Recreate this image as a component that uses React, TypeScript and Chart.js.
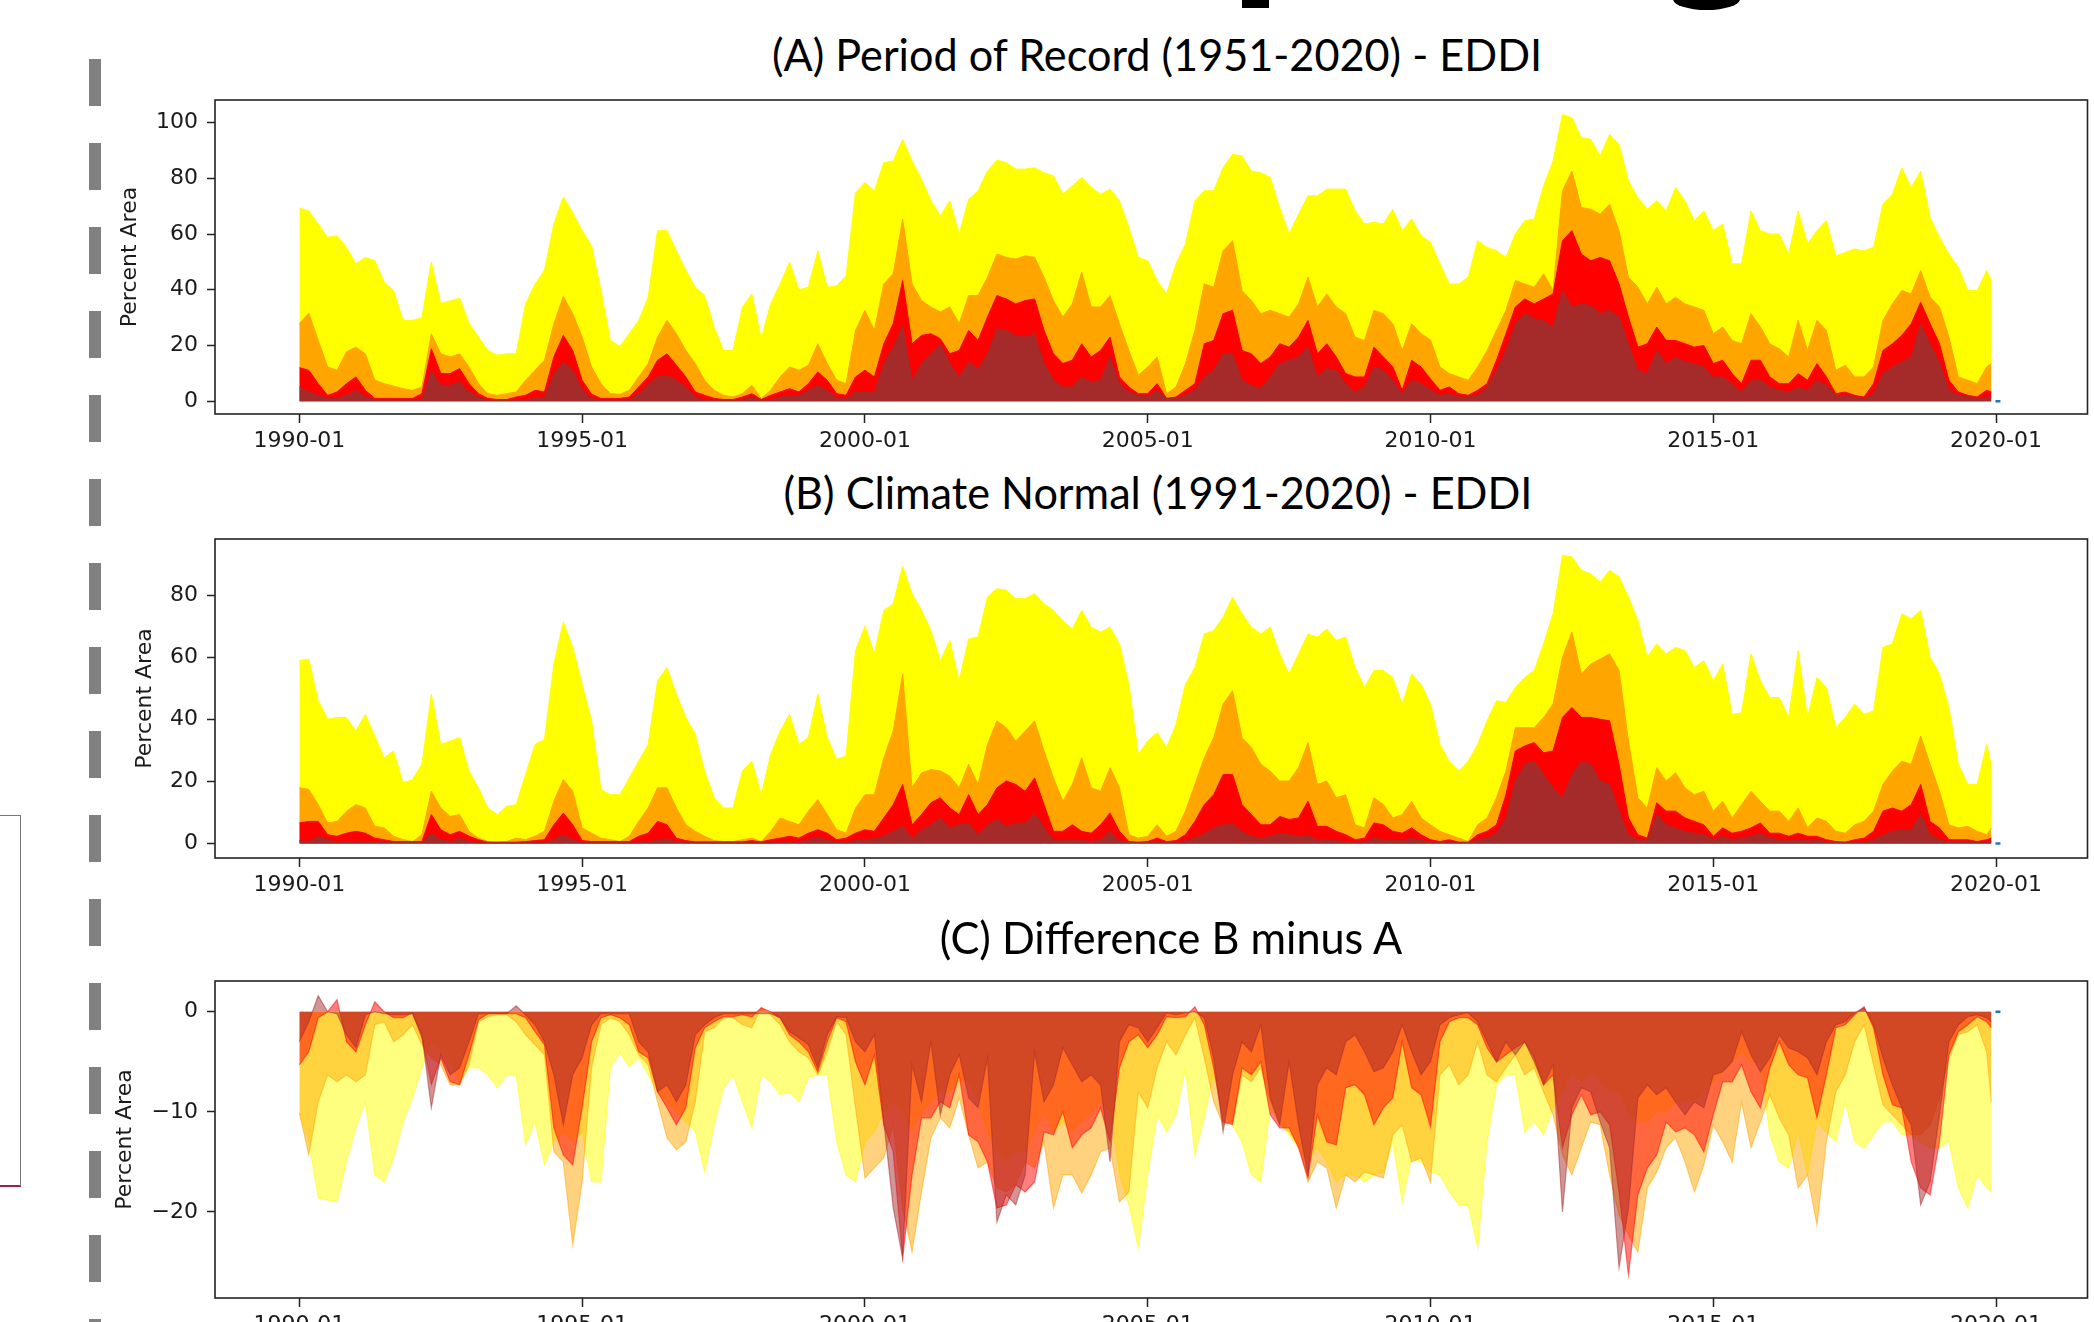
import React, { useEffect, useRef } from 'react';
import { Chart, registerables } from 'chart.js';

Chart.register(...registerables);

// ---------- categories (months since 1990-01, sampled every 2 months, last = 2019-12) ----------
const months: number[] = Array.from({ length: 180 }, (_, i) => i * 2).concat([359]);
const xTickMonths = [0, 60, 120, 180, 240, 300, 360];
const xTickLabels = ['1990-01', '1995-01', '2000-01', '2005-01', '2010-01', '2015-01', '2020-01'];
const endMarkerMonth = [360.4];
const endMarkerValue = [0];

const titles = [
  '(A) Period of Record (1951-2020) - EDDI',
  '(B) Climate Normal (1991-2020) - EDDI',
  '(C) Difference B minus A',
];
const yAxisLabel = 'Percent Area';

const yTicksA = [0, 20, 40, 60, 80, 100];
const yTickLabelsA = ['0', '20', '40', '60', '80', '100'];
const yTicksB = [0, 20, 40, 60, 80];
const yTickLabelsB = ['0', '20', '40', '60', '80'];
const yTicksC = [-20, -10, 0];
const yTickLabelsC = ['\u221220', '\u221210', '0'];

// ---------- (A) Period of Record: cumulative percent area D0+ .. D3+ ----------
const aD0 = [
  69.3, 68.3, 63.6, 58.8, 59.4, 55.2, 49.3, 51.6, 50.4, 42.7, 39.7, 29, 29, 30, 50, 35, 36, 37, 28, 23,
  18.2, 16.5, 17, 17, 35, 42, 47, 63.6, 73.3, 67.7, 61.2, 55.8, 39.7, 21.8, 19.7, 24.2, 29, 37.3, 61.2, 61.2,
  54, 47, 40.9, 38, 26.6, 18.2, 18.2, 33.7, 38.5, 22.4, 35, 42, 49.9, 40, 40.9, 54, 40.9, 41.5, 45, 74.9,
  78.5, 75.5, 85.6, 86.2, 94, 86.2, 79.7, 71.9, 66.5, 71.9, 60, 72.5, 75.5, 82.6, 86.5, 85.6, 83.3, 83.3, 83.8, 82,
  80.9, 74.3, 77.3, 80.3, 76.7, 74.3, 76.1, 71.9, 62.4, 51.6, 50.4, 43.3, 38.5, 49.3, 56.4, 71.9, 75.5, 75.5, 83.8, 88.6,
  88, 82.6, 82, 80.3, 69.5, 60, 67.1, 73.7, 73.7, 76.1, 76.1, 76.1, 68.3, 63.6, 64.2, 63.6, 68.9, 61.2, 65.4, 59.4,
  57, 49.3, 42.1, 42.1, 44.5, 57.6, 55.2, 54, 51.6, 60, 64.8, 65.4, 77.3, 86.2, 102.9, 101.7, 94.6, 94, 88, 95.8,
  92.2, 79.1, 73.1, 68.9, 71.9, 68.3, 76.7, 71.9, 64.8, 68.3, 61.2, 63.6, 49.3, 49.3, 68.3, 61.2, 60, 60, 52.8, 68.3,
  56.4, 61.2, 64.8, 52.2, 53.4, 54.6, 54, 55.2, 70.7, 74.3, 83.8, 76.7, 82.6, 65.9, 58.8, 52.8, 48.1, 39.7, 39.7, 46.9,
  43.3,
];
const aD1 = [
  27.8, 31.6, 21.8, 12.3, 11.1, 17.7, 19.4, 17, 7.5, 6.3, 5.4, 4.5, 3.9, 5.1, 24.2, 17, 15.9, 17, 12.3, 6.3,
  2.7, 2.1, 2.7, 3.3, 7.5, 11.1, 14.7, 27.8, 37.6, 31.4, 23, 12.3, 6.3, 2.7, 2.5, 3.9, 8.7, 13.5, 23, 29,
  24.2, 18.2, 13.5, 7.5, 3.9, 2.1, 1.5, 2.7, 5.7, 1, 3.9, 8.7, 12.3, 11.1, 12.9, 20.6, 13.5, 7.5, 6.3, 25.4,
  32.6, 25.4, 42.1, 45.7, 65.4, 42.1, 36.1, 33.8, 32, 33.8, 27.8, 37.9, 37.9, 44.5, 52.8, 51.6, 51, 52.2, 51.6, 44.5,
  36.1, 30.2, 34.9, 46.3, 33.8, 33.8, 37.9, 27.8, 18.2, 9.3, 12.3, 15.9, 2.7, 5.1, 13.5, 25.4, 42.1, 40.9, 54, 57.6,
  39.7, 36.1, 31.4, 32.6, 31.4, 30.2, 34.9, 44.5, 33.8, 38.5, 33.8, 31.4, 23, 21.8, 32.6, 31.4, 27.8, 18.2, 27.8, 24.2,
  22, 12.3, 9.9, 8.7, 7.5, 12.3, 18.2, 25.4, 32.6, 43.3, 42.1, 40.9, 45.7, 39.7, 75.5, 82.6, 69.5, 68.9, 67.1, 70.7,
  61.2, 44.5, 40.9, 34.9, 40.9, 34.9, 37.3, 34.9, 33.8, 32.6, 24.2, 26.6, 21.8, 20.6, 31.4, 26.6, 20.6, 18.8, 15.9, 29,
  18.2, 29, 25.4, 11.1, 12.9, 8.7, 8.7, 12.3, 29, 34.9, 39.7, 38.5, 46.9, 37.3, 33.8, 23, 8.7, 7.5, 6.3, 12.3,
  13.5,
];
const aD2 = [
  12, 11.1, 6.3, 2.1, 3.3, 6.3, 8.7, 3.9, 1, 1, 1, 1, 1, 2.7, 18.8, 9.9, 9.9, 11.7, 6.3, 2.7,
  1, 0.6, 0.6, 1.5, 2.1, 3.9, 3.3, 15.9, 23.6, 18.2, 7.5, 2.5, 1, 1, 1, 1.5, 5.1, 8.7, 14.7, 17,
  12.9, 8.7, 3.3, 2.1, 1, 0.6, 0.6, 1.5, 2.7, 0.6, 2.1, 3.3, 4.5, 3.3, 6.3, 10.5, 7.5, 2.7, 2.1, 8.7,
  11.1, 8.7, 20.6, 27.8, 43.3, 20.6, 23.6, 24.2, 22.4, 17, 18.2, 25.4, 21.8, 30.2, 37.9, 36.7, 34.9, 36.1, 36.7, 25.4,
  17, 13.5, 14.7, 20.6, 15.9, 18.2, 23, 8.7, 5.1, 2.7, 2.7, 6.3, 1, 1.5, 3.9, 6.3, 20.6, 21.8, 31.4, 32.6,
  18.2, 17, 13.5, 15.9, 20.6, 19.4, 23, 29, 17, 20.6, 15.9, 9.9, 8.7, 8.7, 19.4, 15.9, 12.3, 3.9, 14.7, 12.3,
  8, 3.9, 5.1, 2.7, 2.1, 3.9, 6.3, 14.7, 24.2, 33.8, 36.7, 34.9, 36.7, 38.5, 57.6, 61.2, 52.8, 50.4, 51.6, 50.4,
  42.1, 30.2, 19.4, 20.6, 26.6, 21.8, 21.8, 20.6, 19.4, 20, 13.5, 14.7, 9.9, 6.3, 14.7, 14.7, 8.7, 6.3, 6.3, 9.9,
  7.5, 13.5, 8.7, 2.7, 3.3, 2.1, 1.5, 6.3, 18.2, 20.6, 23.6, 27.8, 35.5, 27.8, 20.6, 7.5, 3.3, 2.1, 1.5, 3.9,
  3.3,
];
const aD3 = [
  5.1, 3.3, 2.1, 1, 1, 2.1, 3.9, 1.5, 0.5, 0.5, 0.5, 0.5, 0.5, 0.5, 11.1, 5.7, 5.7, 6.9, 3.3, 1.5,
  0.3, 0.3, 0.3, 0.3, 0.5, 1, 1.5, 9.9, 14.1, 11.1, 3.9, 1, 0.3, 0.3, 0.3, 0.3, 2.7, 6.3, 8.7, 9.3,
  7.5, 5.1, 1.5, 0.3, 0.3, 0.3, 0.3, 0.5, 1.5, 0.3, 0.5, 1.5, 2.1, 2.1, 3.9, 5.7, 3.9, 1, 1, 3.3,
  3.3, 3.3, 13.5, 19.4, 27.2, 7.5, 13.5, 17, 20.6, 13.5, 8.7, 14.1, 11.7, 17, 26, 25.4, 23.6, 23, 24.2, 13.5,
  7.5, 5.1, 5.1, 8.7, 6.9, 7.5, 15.9, 6.3, 3.3, 2.1, 1.5, 3.9, 1, 1, 2.1, 3.9, 8.7, 11.1, 17, 17,
  7.5, 5.7, 4.5, 8.7, 13.5, 14.7, 15.9, 19.4, 8.7, 11.7, 11.1, 6.3, 3.3, 5.1, 12.3, 11.1, 7.5, 2.7, 7.5, 6.3,
  4, 2.1, 2.7, 1.5, 1.5, 2.1, 5.1, 11.1, 18.2, 27.8, 31.4, 29.6, 29, 26.6, 39.7, 33.8, 34.9, 34.3, 31.4, 32.6,
  30.2, 20.6, 11.1, 9.9, 18.2, 13.5, 15.9, 14.1, 13.5, 12.3, 8.7, 8.7, 6.3, 3.3, 7.5, 7.5, 5.1, 3.9, 3.3, 5.1,
  3.9, 7.5, 5.7, 2.1, 2.1, 1.5, 1, 2.7, 9.9, 12.3, 14.1, 15.9, 27.8, 20.6, 13.5, 3.9, 2.1, 1.5, 1, 1.5,
  1.5,
];

// ---------- (B) Climate Normal ----------
const bD0 = [
  58.9, 59.4, 46, 40, 40.6, 40.6, 36.2, 41.6, 34.6, 27.6, 29.8, 19.5, 20.6, 25.5, 48.1, 31.9, 33, 34.1, 23.3, 17.9,
  11.4, 9.3, 12, 12.5, 22.2, 31.9, 33.5, 57.8, 71.3, 63.2, 51.3, 39.5, 17.4, 15.7, 15.7, 21.1, 26.5, 31.9, 52.4, 56.7,
  48.1, 40.6, 35.2, 23.3, 14.7, 11.4, 11.4, 23.3, 26.5, 15.7, 28.7, 36.2, 41.6, 31.9, 34.1, 48.1, 34.1, 27.1, 28.2, 62.1,
  70, 61.1, 75.1, 77.2, 89.3, 80.5, 75.1, 68.6, 58.9, 65.4, 52.4, 65.9, 66.5, 79.4, 82.1, 81.6, 78.9, 78.9, 80.5, 77.2,
  75.1, 71.8, 69.1, 75.1, 69.7, 68.1, 69.7, 64.3, 51.3, 28.7, 33, 35.7, 30.9, 38.4, 51.3, 56.7, 67.5, 68.6, 72.9, 79.4,
  74, 69.7, 67.5, 69.7, 61.1, 54.6, 61.1, 67.5, 66.5, 69.1, 65.4, 66.5, 56.7, 50.3, 55.7, 55.7, 53.5, 44.9, 54.6, 51.3,
  45, 31.9, 26.5, 23.3, 26.5, 31.9, 39.5, 46, 45.4, 50.3, 53.5, 55.7, 64.3, 74, 92.9, 92.3, 88, 86.9, 84.2, 88,
  85.9, 79.4, 71.8, 60, 64.3, 61.1, 63.2, 62.1, 56.7, 58.9, 52.4, 57.8, 41.6, 42.1, 61.1, 52.4, 47, 47, 40.6, 62.1,
  40.6, 53.5, 50.3, 37.3, 40.6, 44.9, 41.6, 42.7, 63.2, 64.3, 74, 72.4, 75.1, 60, 54.6, 43.8, 25.5, 19, 19, 31.9,
  25.5,
];
const bD1 = [
  17.9, 17.4, 12.5, 6.6, 7.1, 10.4, 12.5, 11.4, 5.5, 5, 2.3, 1.2, 0.6, 2.8, 16.8, 11.4, 8.7, 9.3, 3.9, 1.7,
  0.6, 0.4, 0.6, 1.7, 1.2, 2.3, 3.9, 13.6, 20.6, 16.8, 5, 3.3, 1.7, 1.2, 0.6, 2.3, 7.1, 11.4, 17.9, 17.9,
  11.4, 6, 3.9, 2.3, 0.9, 0.6, 0.6, 1.2, 1.7, 0.6, 3.9, 8.2, 7.1, 6, 10.4, 14.1, 9.3, 4.4, 3.3, 11.4,
  15.7, 15.7, 27.6, 36.2, 54.6, 17.9, 22.7, 23.8, 23.3, 21.7, 17.9, 25.5, 19, 31.9, 39.5, 37.3, 33, 36.2, 39.5, 29.8,
  21.1, 13.6, 19, 27.6, 17.9, 16.8, 24.4, 17.9, 2.8, 1.7, 2.3, 6, 2.3, 3.9, 10.4, 19, 27.6, 34.1, 44.9, 49.2,
  34.1, 30.9, 25.5, 23.3, 20.1, 20.1, 24.4, 32.5, 19, 20.1, 14.7, 15.7, 6, 5, 14.7, 12.5, 8.2, 9.3, 13.6, 8.2,
  6, 3.9, 2.8, 1.7, 0.6, 6, 8.2, 14.7, 23.3, 37.3, 37.3, 37.3, 40.6, 44.9, 60, 68.1, 54.6, 57.8, 59.4, 61.1,
  55.7, 33, 14.7, 11.4, 24.4, 20.1, 22.8, 17.9, 15.7, 16.8, 10.4, 13.6, 8.2, 12.5, 16.8, 13.6, 10.4, 10.4, 7.1, 11.4,
  5, 8.2, 7.1, 3.9, 3.3, 6, 7.1, 10.4, 19, 23.3, 26.5, 25.5, 34.6, 25.5, 16.8, 6, 5, 5.5, 3.9, 2.8,
  5,
];
const bD2 = [
  6.6, 7.1, 7.1, 2.8, 2.3, 3.3, 3.9, 3.3, 1.7, 1.2, 0.6, 0.6, 0.6, 0.6, 9.3, 4.4, 2.8, 3.9, 2.3, 1.2,
  0.4, 0.4, 0.4, 0.4, 0.6, 0.9, 1.2, 6, 9.8, 6, 0.9, 0.6, 0.6, 0.6, 0.6, 0.6, 2.3, 3.3, 7.1, 6,
  1.7, 0.9, 0.5, 0.5, 0.5, 0.5, 0.5, 0.5, 0.9, 0.5, 1.2, 1.7, 2.3, 1.7, 3.3, 4.4, 3.3, 1.2, 1.7, 3.3,
  4.4, 3.9, 8.2, 12.5, 19, 6, 9.3, 13.1, 14.7, 11.4, 9.3, 15.7, 9.3, 12.5, 17.9, 20.1, 19, 16.8, 21.1, 12.5,
  3.9, 3.9, 6, 3.9, 3.3, 6, 9.8, 3.9, 0.6, 0.4, 0.6, 1.7, 0.6, 0.9, 2.8, 7.1, 12.5, 15.7, 22.2, 22.2,
  12.5, 9.3, 6, 6, 8.7, 7.7, 8.2, 13.6, 5.5, 5.5, 3.9, 2.8, 1.2, 1.7, 6.6, 6, 3.9, 3.3, 5, 2.8,
  1.2, 0.6, 1.2, 0.4, 0.4, 2.8, 3.9, 6, 15.7, 29.8, 31.4, 32.5, 29.2, 29.8, 40.6, 43.8, 40.6, 40.6, 40, 39.5,
  25.5, 8.2, 2.8, 1.7, 13.1, 10.4, 10.4, 8.2, 7.1, 6, 2.3, 5, 3.3, 3.9, 5, 6.6, 3.3, 3.3, 2.3, 3.3,
  2.3, 2.3, 1.2, 0.6, 0.4, 1.2, 1.7, 3.9, 10.4, 11.4, 10.4, 12.5, 19, 7.1, 5, 1.2, 1.2, 1.2, 0.6, 1.2,
  1.7,
];
const bD3 = [
  0.9, 0.6, 2.3, 1.2, 0.3, 0.3, 0.3, 0.3, 0.3, 0.3, 0.3, 0.3, 0.3, 0.3, 3.3, 1.2, 0.6, 1.7, 0.6, 0.2,
  0.2, 0.2, 0.2, 0.2, 0.2, 0.2, 0.2, 1.2, 2.8, 1.2, 0.2, 0.2, 0.2, 0.2, 0.2, 0.2, 0.2, 0.4, 1.2, 1.5,
  0.6, 0.2, 0.2, 0.2, 0.2, 0.2, 0.2, 0.2, 0.2, 0.2, 0.2, 0.4, 0.6, 0.4, 1.2, 1.9, 1.2, 0.4, 0.4, 0.9,
  1.2, 1.5, 2.3, 3.9, 5.5, 1.7, 4.4, 6, 8.2, 5, 6, 6.6, 2.8, 6, 7.7, 5.5, 6.6, 6.6, 9.8, 5,
  1.2, 0.9, 1.2, 0.9, 0.6, 1.2, 3.9, 0.9, 0.3, 0.3, 0.3, 0.3, 0.3, 0.4, 0.9, 1.7, 3.3, 5, 6, 6.3,
  3.9, 2.3, 1.7, 2.3, 3.3, 2.8, 2.3, 2.8, 1.2, 1.2, 0.9, 0.6, 0.4, 0.6, 1.7, 1.2, 0.9, 0.9, 1.7, 0.9,
  0.6, 0.3, 0.3, 0.3, 0.3, 1.2, 1.7, 3.3, 8.2, 20.1, 25.5, 26.5, 22.2, 17.9, 14.7, 22.2, 26.5, 25.5, 20.1, 19,
  10.4, 2.8, 1.2, 1.2, 9.3, 6, 5, 3.9, 3.3, 2.8, 1.2, 2.3, 1.2, 1.7, 2.3, 3.3, 1.7, 1.2, 0.9, 1.2,
  0.9, 1.2, 0.6, 0.4, 0.4, 0.4, 0.4, 1.2, 2.8, 3.9, 4.4, 4.4, 9.3, 2.8, 1.2, 0.5, 0.5, 0.5, 0.5, 0.5,
  0.5,
];

// ---------- (C) Difference B minus A ----------
const cD0 = [
  -10.1, -13, -18.6, -18.8, -19, -15, -11.6, -9, -16.3, -17, -14.6, -11, -8.6, -5.6, -3, -4, -5, -7, -5.6, -5.6,
  -6.3, -7.6, -6.3, -6.3, -13.3, -11, -15.3, -13, -12, -13, -12, -17, -17, -5.6, -4.1, -5.5, -4.6, -6.3, -8, -9,
  -10, -11, -12, -16, -11.3, -7.6, -6.3, -9, -11.6, -6.3, -7, -8.3, -8, -9, -6.6, -6.3, -6.3, -13, -16.3, -17,
  -13, -12, -10, -9, -10, -12, -10, -9, -8, -8, -7, -7, -9, -12, -14, -15, -14, -14, -12, -10,
  -12, -11, -12, -11, -10, -9, -10, -16.3, -19.3, -23.6, -16.3, -10.3, -12, -10.3, -5.6, -14.3, -10.6, -6.3, -9.6, -11.3,
  -13, -16.3, -17, -9.6, -11, -12.3, -13.6, -15, -13.6, -15, -17, -16.3, -16.3, -17, -16.3, -16, -13, -19, -14.6, -15,
  -16, -16.3, -18, -19.3, -19.3, -23.6, -13, -7.3, -6.3, -6.3, -12, -11, -12.3, -9.6, -8, -6, -7, -6, -7, -8,
  -8, -10, -11, -11, -10, -10, -9, -9, -9, -8, -7, -6, -5, -4, -5, -5, -12.3, -15, -15.6, -12,
  -16.3, -11, -12, -13, -9, -13, -13.6, -12.3, -11, -11, -12.3, -12.3, -13, -13.6, -13.6, -13, -17.6, -19.6, -16.3, -17.6,
  -18,
];
const cD1 = [
  -10.1, -14.3, -9, -6.3, -7, -6.3, -7, -6.3, -1.3, -1, -3, -2.3, -1.3, -3.3, -4.6, -5.3, -7.3, -7.3, -5.3, -1,
  -0.5, -0.3, -0.3, -1, -2.3, -3.3, -4.3, -14, -15, -23.3, -17, -5.6, -1.3, -0.6, -1, -2.3, -4.3, -5.3, -9, -12.6,
  -13.8, -13, -9, -2, -1.6, -0.6, -0.6, -1.3, -1.6, 0.4, -0.3, -1.3, -3, -4, -4.6, -6.3, -4, -1, -2.3, -9.6,
  -16.6, -15.6, -14.6, -11.3, -19.6, -24, -18, -12.6, -10.6, -11.6, -8.6, -12.3, -15.6, -15, -17.6, -18, -17.3, -15, -15.6, -13,
  -19.6, -16.3, -16.3, -18.1, -16.3, -14, -13.6, -19, -18, -8, -9.6, -5.6, -3, -4.3, -2.3, -0.6, -4.6, -9, -11.3, -11,
  -6.3, -7, -5.6, -9, -11.3, -12, -13.3, -17, -15, -15.6, -19.6, -16.3, -17, -16, -16.3, -16.6, -12.3, -11.3, -15, -14.6,
  -17, -6.3, -5.3, -7.3, -6.3, -3, -6.3, -7, -5.6, -4.3, -6.3, -5.6, -8, -10.3, -14.3, -16.3, -13.6, -11, -11.3, -16.3,
  -20.3, -22.3, -24, -17.6, -16, -13.6, -12.6, -15, -18, -15.3, -11.3, -13, -15, -9, -13.6, -11, -8.3, -10.6, -12.3, -17.6,
  -16.3, -21.3, -13, -8, -6.3, -3, -1.3, -5.3, -9.3, -10.3, -11.3, -12.3, -12.3, -11.3, -8.6, -4.6, -2.3, -2, -1.3, -4,
  -9,
];
const cD2 = [
  -5.3, -4, -0.6, 0, 1.2, -3, -4, -1.3, 1, 0, -0.6, -0.6, -0.1, -2.6, -7.3, -4.6, -7, -7.3, -4.3, -0.8,
  -0.2, -0.2, -0.2, -0.2, -0.6, -2, -3.3, -11.6, -14.3, -15.3, -9.6, -3, -0.6, -0.3, -0.6, -1.3, -4, -4.6, -8, -9.6,
  -11.3, -9.6, -3.6, -1.6, -1, -0.5, -0.5, -0.3, -0.5, 0.4, 0, -0.6, -2.3, -3, -4, -6, -3, -0.6, -1, -5,
  -7.3, -4.3, -11.3, -14, -24.6, -16.3, -10.6, -10.6, -9, -9.6, -6.3, -12.3, -13, -15, -19.6, -19.3, -17.3, -18, -17, -12,
  -12.3, -10, -13.6, -12.3, -11.6, -9.6, -13, -5.6, -3, -2.3, -3.6, -2.3, -0.5, -0.6, -0.5, 0.5, -1.3, -5.6, -11, -11.3,
  -5.6, -6.3, -5, -10.3, -11.6, -11.6, -13.6, -16.6, -10.3, -13, -13.3, -7.6, -7.3, -8.3, -11.3, -9.6, -8.6, -3, -7.6, -8.3,
  -11.5, -3, -1, -0.6, -0.6, -1.3, -3.6, -5, -4.3, -3.6, -3, -4.6, -7.3, -6.3, -13.6, -10.3, -8.3, -10.3, -10, -11.3,
  -18, -26.3, -18.3, -15.6, -14.3, -11, -12, -11.6, -12.3, -14, -10.3, -7, -7, -5.3, -8, -9.6, -5.6, -3, -5.3, -6.3,
  -6.6, -10.6, -6.3, -1.6, -1.3, -0.3, 0.5, -1.6, -6.3, -9.3, -9.6, -15, -17.6, -18.3, -13, -4.3, -2, -1.3, -0.5, -1,
  -1.6,
];
const cD3 = [
  -3, -1, 1.6, 0, -0.2, -2.3, -3.6, -0.3, 0, -0.2, -0.3, -0.3, -0.2, -2.3, -9.6, -4.3, -6.3, -5.6, -3, -0.2,
  -0.2, -0.2, -0.2, 0.6, -0.3, -1.3, -3, -6.3, -11.3, -6.3, -4.6, -1.3, -0.2, -0.2, -0.2, -0.2, -3, -4, -8, -7.3,
  -9, -7.3, -2.3, -1.3, -0.6, -0.2, -0.2, -0.2, -0.2, -0.2, -0.2, -0.6, -2, -2.6, -3.3, -5.6, -2.3, -0.5, -0.6, -3,
  -4, -2.3, -11, -19.6, -24.6, -5.3, -9, -3, -10.3, -6.3, -4.3, -8.6, -9.6, -4.6, -21, -18.3, -19.3, -16.3, -4, -9,
  -7.3, -3.6, -5.3, -7, -6.3, -7.3, -15, -3, -1.3, -1.6, -3, -1.6, -0.1, -0.3, -0.1, 0, -0.6, -4.6, -12, -6.3,
  -3, -4, -1.3, -8.6, -11.3, -5, -11.3, -16.3, -7.3, -5.6, -6.3, -3, -2.3, -4, -6, -5.6, -4, -1.3, -4, -6.3,
  -5, -1.3, -0.6, -0.3, -0.1, -1, -3, -5, -3, -4.3, -3, -5, -7.3, -5.3, -20, -9.6, -7.6, -8, -11, -13.6,
  -25.6, -19.6, -8.6, -7.3, -8.3, -7.6, -9, -10.3, -9, -9.6, -6.3, -6, -5, -2, -4.3, -6, -4.6, -2.3, -3.6, -4,
  -4.6, -6.3, -3, -1.3, -1, -0.1, 0.4, -1.3, -4.6, -7.3, -9.6, -11.3, -19.3, -17, -10.3, -3, -1.3, -0.5, -0.3, -0.6,
  -1,
];

// ---------- styling ----------
const TICK_FONT = "'DejaVu Sans', 'Liberation Sans', sans-serif";
const TEXT_COLOR = '#1a1a1a';
const TITLE_FONT_SIZE = 44;
const TITLE_FONT_FAMILY = "Lato, 'Liberation Sans', sans-serif";

const SOLID = { d0: '#ffff00', d1: '#ffa500', d2: '#ff0000', d3: '#a52a2a' };
const ALPHA = {
  d0: 'rgba(255,255,0,0.5)',
  d1: 'rgba(255,165,0,0.5)',
  d2: 'rgba(255,0,0,0.5)',
  d3: 'rgba(165,42,42,0.5)',
};

type Series = { values: number[]; fill: string; edge: string; width: number };
type PanelSpec = {
  series: Series[];
  yMin: number;
  yMax: number;
  yTicks: number[];
  yLabels: string[];
  titlePad: number;
  padTop: number;
};

const boxPlugin = {
  id: 'axesBox',
  afterDraw(chart: any) {
    const { ctx, chartArea } = chart;
    const { left, top, right, bottom } = chartArea;
    ctx.save();
    ctx.strokeStyle = '#222';
    ctx.lineWidth = 1.6;
    ctx.strokeRect(left, top, right - left, bottom - top);
    ctx.restore();
  },
};

function buildConfig(spec: PanelSpec): any {
  const datasets: any[] = spec.series.map((s) => ({
    data: months.map((m, i) => ({ x: m, y: s.values[i] })),
    backgroundColor: s.fill,
    borderColor: s.edge,
    borderWidth: s.width,
    fill: 'origin',
    pointRadius: 0,
    tension: 0,
  }));
  datasets.push({
    data: endMarkerMonth.map((m, i) => ({ x: m, y: endMarkerValue[i] })),
    showLine: false,
    fill: false,
    pointStyle: 'line',
    pointRadius: 2.5,
    borderWidth: 2.5,
    borderColor: '#1f77b4',
    backgroundColor: '#1f77b4',
  });
  return {
    type: 'line',
    data: { datasets },
    plugins: [boxPlugin],
    options: {
      responsive: false,
      animation: false,
      devicePixelRatio: 1,
      events: [],
      layout: { padding: { top: spec.padTop, right: 4, bottom: 0, left: 0 } },
      plugins: {
        legend: { display: false },
        tooltip: { enabled: false },
        title: { display: false },
      },
      scales: {
        x: {
          type: 'linear',
          bounds: 'data',
          min: -17.9,
          max: 379.4,
          afterBuildTicks: (s: any) => {
            s.ticks = xTickMonths.map((v) => ({ value: v }));
          },
          afterFit: (s: any) => {
            s.height = 45;
            s.paddingLeft = 0;
            s.paddingRight = 0;
          },
          ticks: {
            autoSkip: false,
            maxRotation: 0,
            minRotation: 0,
            padding: 5,
            color: TEXT_COLOR,
            font: { family: TICK_FONT, size: 22 },
            callback: (v: any) => {
              const i = xTickMonths.indexOf(Number(v));
              return i >= 0 ? xTickLabels[i] : '';
            },
          },
          grid: {
            display: true,
            drawOnChartArea: false,
            drawTicks: true,
            tickLength: 9,
            tickWidth: 1.5,
            tickColor: '#222',
          },
          border: { display: false },
        },
        y: {
          type: 'linear',
          bounds: 'data',
          min: spec.yMin,
          max: spec.yMax,
          afterBuildTicks: (s: any) => {
            s.ticks = spec.yTicks.map((v) => ({ value: v }));
          },
          afterFit: (s: any) => {
            s.width = 215;
            s.paddingTop = 0;
            s.paddingBottom = 0;
          },
          ticks: {
            padding: 9,
            color: TEXT_COLOR,
            font: { family: TICK_FONT, size: 22 },
            callback: (v: any) => {
              const i = spec.yTicks.indexOf(Number(v));
              return i >= 0 ? spec.yLabels[i] : '';
            },
          },
          grid: {
            display: true,
            drawOnChartArea: false,
            drawTicks: true,
            tickLength: 8,
            tickWidth: 1.5,
            tickColor: '#222',
          },
          border: { display: false },
          title: {
            display: true,
            text: yAxisLabel,
            color: TEXT_COLOR,
            font: { family: TICK_FONT, size: 22 },
            padding: { top: spec.titlePad, bottom: 0 },
          },
        },
      },
    },
  };
}

const solidSeries = (d0: number[], d1: number[], d2: number[], d3: number[]): Series[] => [
  { values: d3, fill: SOLID.d3, edge: SOLID.d3, width: 1 },
  { values: d2, fill: SOLID.d2, edge: SOLID.d2, width: 1 },
  { values: d1, fill: SOLID.d1, edge: SOLID.d1, width: 1 },
  { values: d0, fill: SOLID.d0, edge: SOLID.d0, width: 1 },
];

const panelA: PanelSpec = {
  series: solidSeries(aD0, aD1, aD2, aD3),
  yMin: -4.6,
  yMax: 108.1,
  yTicks: yTicksA,
  yLabels: yTickLabelsA,
  titlePad: 117,
  padTop: 20,
};
const panelB: PanelSpec = {
  series: solidSeries(bD0, bD1, bD2, bD3),
  yMin: -4.7,
  yMax: 98.1,
  yTicks: yTicksB,
  yLabels: yTickLabelsB,
  titlePad: 132,
  padTop: 19,
};
const panelC: PanelSpec = {
  series: [
    { values: cD3, fill: ALPHA.d3, edge: ALPHA.d3, width: 1.2 },
    { values: cD2, fill: ALPHA.d2, edge: ALPHA.d2, width: 1.2 },
    { values: cD1, fill: ALPHA.d1, edge: ALPHA.d1, width: 1.2 },
    { values: cD0, fill: ALPHA.d0, edge: ALPHA.d0, width: 1.2 },
  ],
  yMin: -28.6,
  yMax: 3.07,
  yTicks: yTicksC,
  yLabels: yTickLabelsC,
  titlePad: 112,
  padTop: 19,
};

function computeTitleScale(): number {
  try {
    const ctx = document.createElement('canvas').getContext('2d');
    if (!ctx) return 1;
    ctx.font = `${TITLE_FONT_SIZE}px ${TITLE_FONT_FAMILY}`;
    const w = ctx.measureText(titles[0]).width;
    return w > 0 ? 771 / w : 1;
  } catch (e) {
    return 1;
  }
}

export default function App() {
  const refA = useRef<HTMLCanvasElement | null>(null);
  const refB = useRef<HTMLCanvasElement | null>(null);
  const refC = useRef<HTMLCanvasElement | null>(null);

  useEffect(() => {
    const charts: Chart[] = [];
    const pairs: [HTMLCanvasElement | null, PanelSpec][] = [
      [refA.current, panelA],
      [refB.current, panelB],
      [refC.current, panelC],
    ];
    pairs.forEach(([cv, spec]) => {
      if (cv) charts.push(new Chart(cv, buildConfig(spec)));
    });
    return () => charts.forEach((c) => c.destroy());
  }, []);

  const titleScale = computeTitleScale();
  const titlePos = [
    { cx: 1157, top: 32 },
    { cx: 1158, top: 470 },
    { cx: 1171, top: 915 },
  ];

  const canvasStyle = (top: number): React.CSSProperties => ({
    position: 'absolute',
    left: 0,
    top,
    display: 'block',
  });

  return (
    <div
      style={{
        position: 'absolute',
        left: 0,
        top: 0,
        width: 2094,
        height: 1322,
        overflow: 'hidden',
        background: '#ffffff',
      }}
    >
      {/* fragments of the slide around the figure */}
      <div style={{ position: 'absolute', left: 1242, top: 0, width: 27, height: 8, background: '#000' }} />
      <div
        style={{
          position: 'absolute',
          left: 1673,
          top: -12,
          width: 67,
          height: 22,
          borderRadius: '50%',
          background: '#000',
        }}
      />
      <div
        style={{
          position: 'absolute',
          left: 89,
          top: 59,
          width: 12,
          height: 1322 - 59,
          background:
            'repeating-linear-gradient(to bottom, #808080 0px, #808080 47px, rgba(0,0,0,0) 47px, rgba(0,0,0,0) 84px)',
        }}
      />
      <div
        style={{
          position: 'absolute',
          left: -4,
          top: 815,
          width: 25,
          height: 372,
          boxSizing: 'border-box',
          borderTop: '1.5px solid #777',
          borderRight: '1.5px solid #777',
          borderBottom: '2px solid #a0204a',
        }}
      />

      <canvas ref={refA} width={2094} height={379} style={canvasStyle(80)} />
      <canvas ref={refB} width={2094} height={383} style={canvasStyle(520)} />
      <canvas ref={refC} width={2094} height={381} style={canvasStyle(962)} />

      {titles.map((t, i) => (
        <div
          key={t}
          style={{
            position: 'absolute',
            left: titlePos[i].cx - 700,
            top: titlePos[i].top,
            width: 1400,
            textAlign: 'center',
            whiteSpace: 'nowrap',
            fontFamily: TITLE_FONT_FAMILY,
            fontSize: TITLE_FONT_SIZE,
            lineHeight: `${TITLE_FONT_SIZE}px`,
            color: '#000',
            transform: `scaleX(${titleScale})`,
            transformOrigin: 'center top',
          }}
        >
          {t}
        </div>
      ))}
    </div>
  );
}
